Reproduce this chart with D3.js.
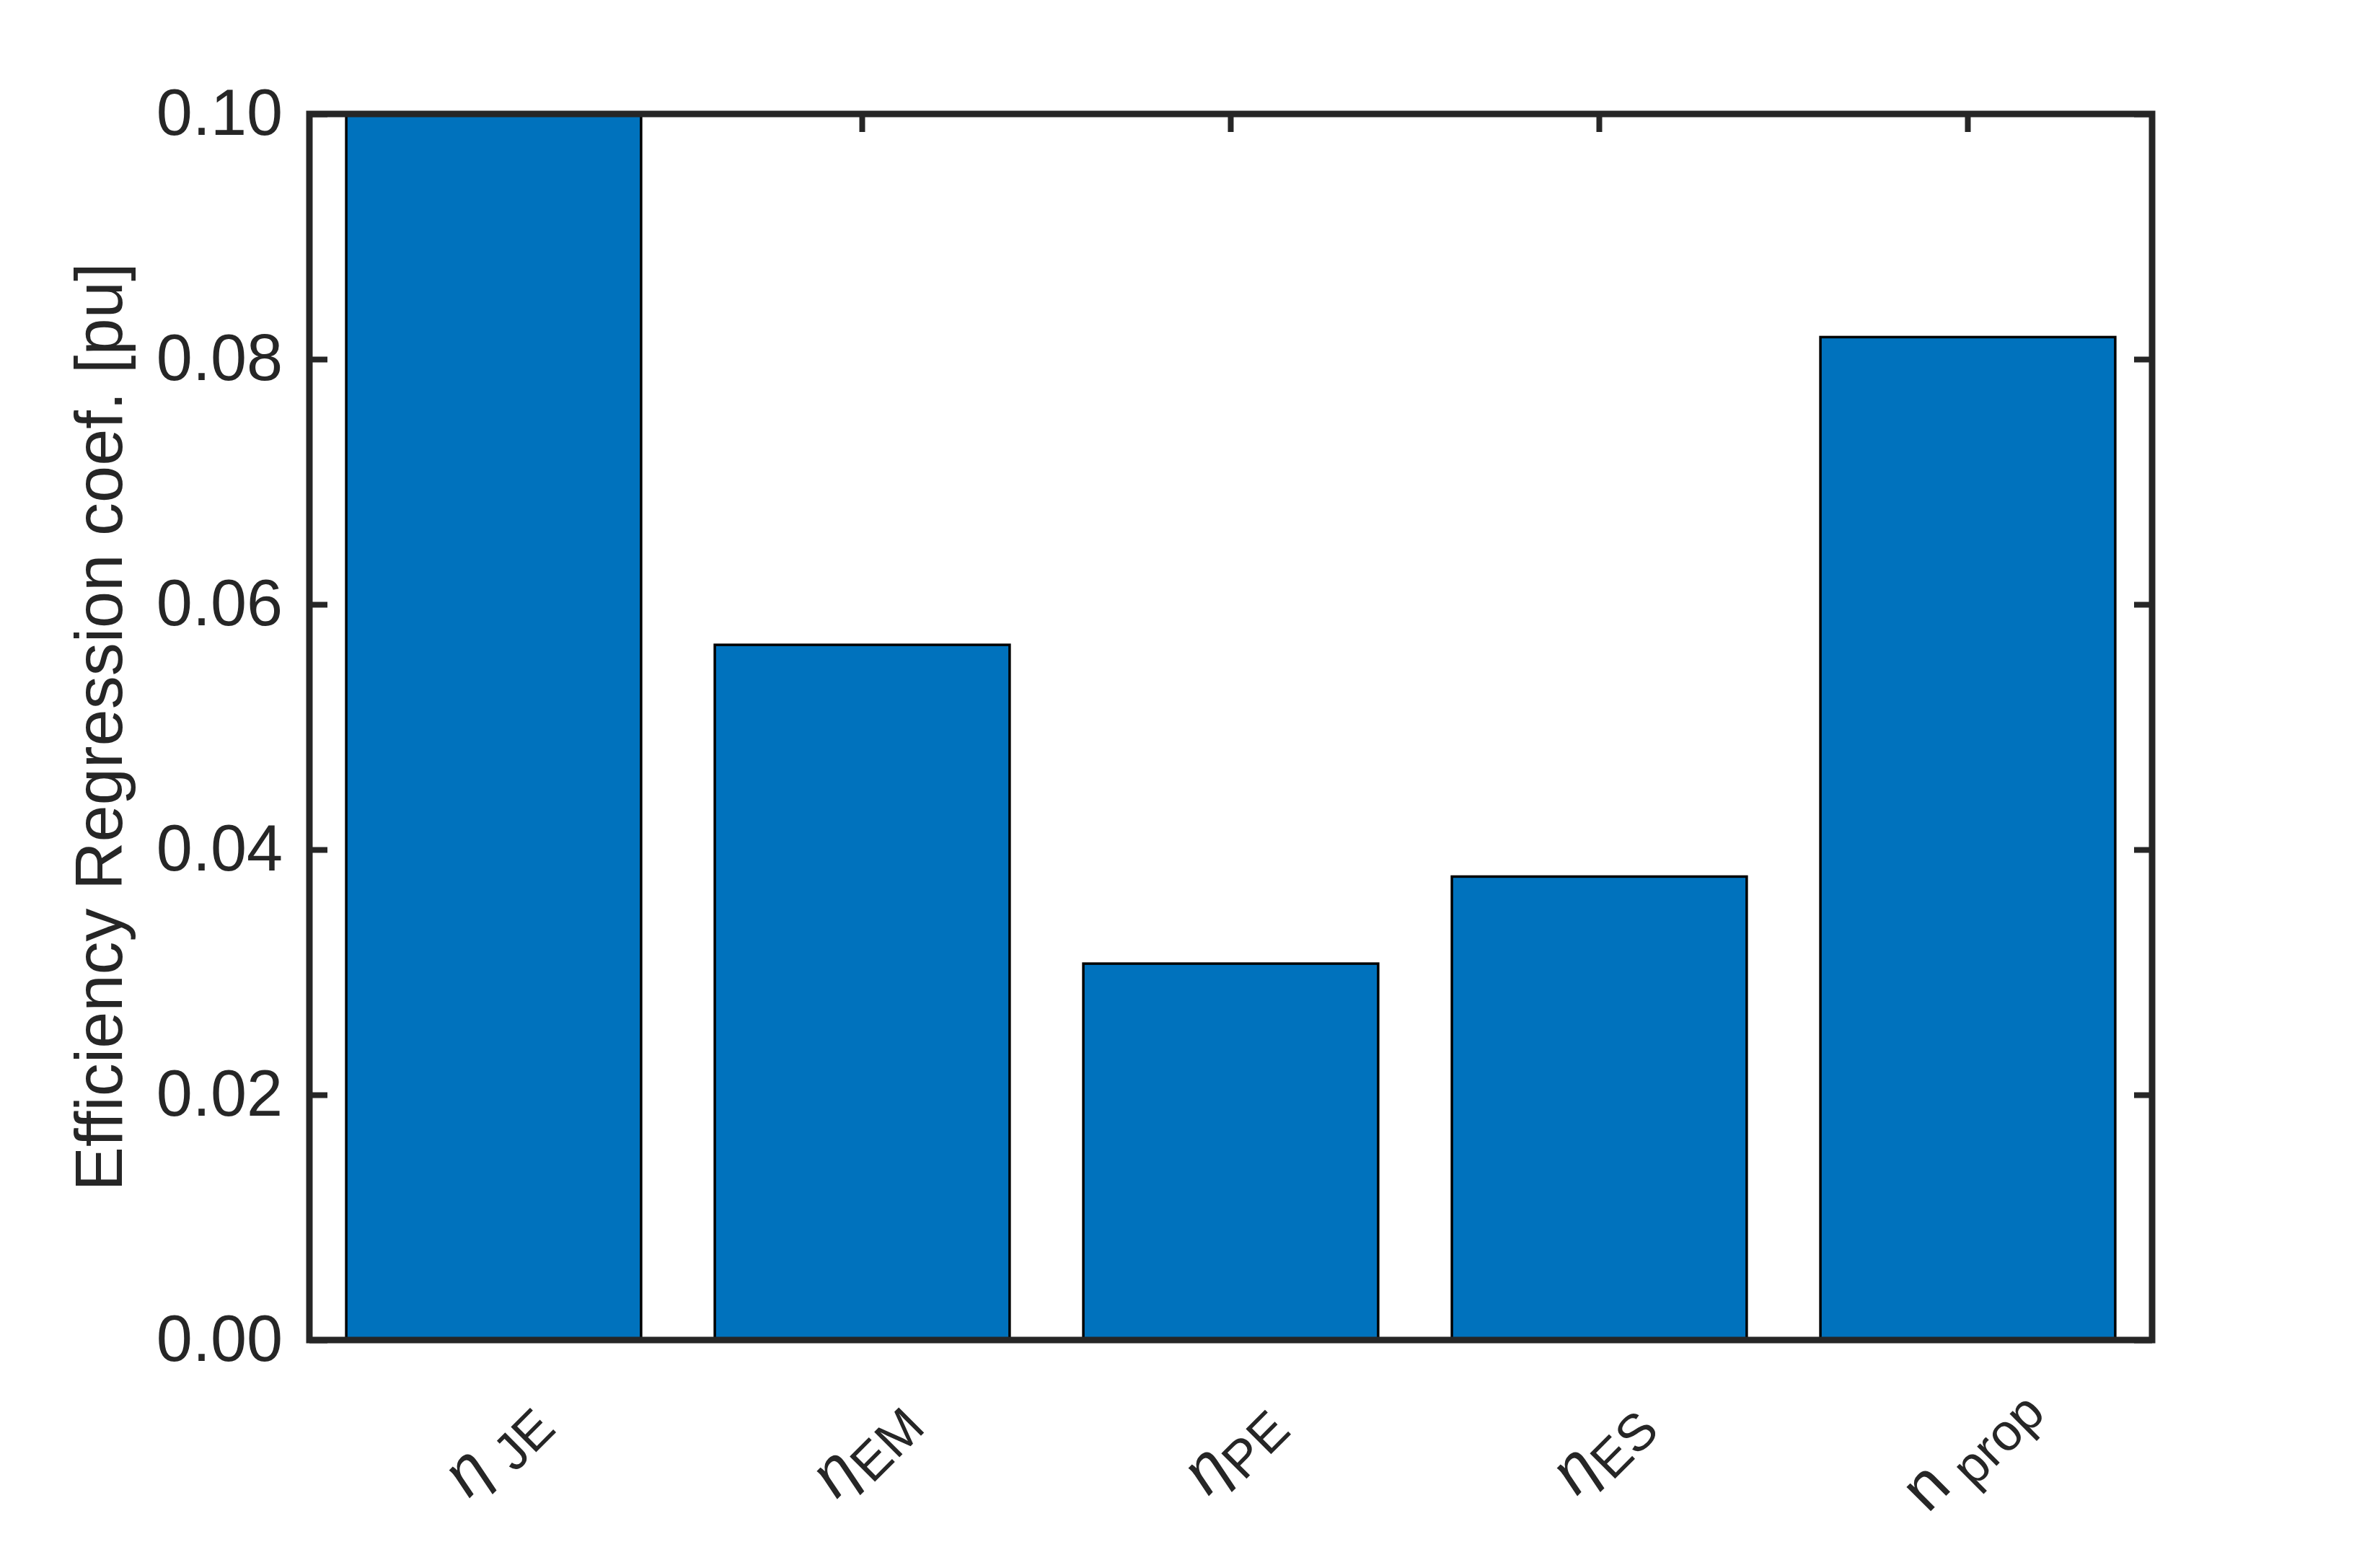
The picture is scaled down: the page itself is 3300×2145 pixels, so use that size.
<!DOCTYPE html>
<html>
<head>
<meta charset="utf-8">
<script src="https://cdn.jsdelivr.net/npm/d3@7"></script>
<style>
  body { margin: 0; background: #fff; }
  text { font-family: "Liberation Sans", Arial, sans-serif; fill: #262626; }
</style>
</head>
<body>
<svg id="chart" width="3300" height="2145"></svg>
<script>
// data
var catKeys = ["JE", "EM", "PE", "ES", "prop"];
var catBase = ["\u03b7", "\u03b7", "\u03b7", "\u03b7", "n"];
var catSub = [" JE", "EM", "PE", "ES", " prop"];
var coefValues = [0.100, 0.0567, 0.0307, 0.0378, 0.0818];
var yTicks = [0, 0.02, 0.04, 0.06, 0.08, 0.10];
var yLabel = "Efficiency Regression coef. [pu]";

var svg = d3.select("#chart");
var plotL = 429, plotR = 2984, plotT = 158, plotB = 1858;
var axisColor = "#262626";

svg.append("rect").attr("width", 3300).attr("height", 2145).attr("fill", "#fff");

var x = d3.scaleBand()
    .domain(catKeys)
    .range([plotL, plotR])
    .paddingInner(0.2)
    .paddingOuter(0.1);

var y = d3.scaleLinear()
    .domain([0, 0.10])
    .range([plotB, plotT]);

// ticks (inside, like matlab box on)
function styleAxis(g) {
    g.selectAll(".tick line").attr("stroke", axisColor).attr("stroke-width", 8);
    g.select(".domain").remove();
    g.selectAll("text").style("font-size", "90px").attr("fill", axisColor);
}

svg.append("g")
    .attr("transform", "translate(" + plotL + ",0)")
    .call(d3.axisLeft(y).tickValues(yTicks).tickFormat(d3.format(".2f")).tickSize(-25).tickPadding(37))
    .call(styleAxis);

svg.append("g")
    .attr("transform", "translate(" + plotR + ",0)")
    .call(d3.axisRight(y).tickValues(yTicks).tickFormat("").tickSize(-25))
    .call(styleAxis);

svg.append("g")
    .attr("transform", "translate(0," + plotT + ")")
    .call(d3.axisTop(x).tickFormat("").tickSize(-25))
    .call(styleAxis);

svg.append("g")
    .attr("transform", "translate(0," + plotB + ")")
    .call(d3.axisBottom(x).tickFormat("").tickSize(-25))
    .call(styleAxis);

// bars
svg.append("g").selectAll("rect")
    .data(coefValues)
    .enter()
    .append("rect")
    .attr("x", function(d, i) { return x(catKeys[i]); })
    .attr("y", function(d) { return y(d); })
    .attr("width", x.bandwidth())
    .attr("height", function(d) { return y(0) - y(d); })
    .attr("fill", "#0072BD")
    .attr("stroke", "#000")
    .attr("stroke-width", 3.5);

// axes box
svg.append("rect")
    .attr("x", plotL).attr("y", plotT)
    .attr("width", plotR - plotL).attr("height", plotB - plotT)
    .attr("fill", "none")
    .attr("stroke", axisColor)
    .attr("stroke-width", 9);

// rotated category labels
var xl = svg.append("g").selectAll("text")
    .data(catKeys)
    .enter()
    .append("text")
    .attr("text-anchor", "middle")
    .attr("transform", function(d) {
        return "translate(" + (x(d) + x.bandwidth() / 2 + 20) + ",2024) rotate(-45)";
    });

xl.append("tspan")
    .style("font-size", "90px")
    .style("font-style", function(d, i) { return catBase[i] === "n" ? "normal" : "italic"; })
    .text(function(d, i) { return catBase[i]; });

xl.append("tspan")
    .style("font-size", "72px")
    .attr("dy", 20)
    .text(function(d, i) { return catSub[i]; });

// y label
svg.append("text")
    .attr("transform", "translate(169," + ((plotT + plotB) / 2) + ") rotate(-90)")
    .attr("text-anchor", "middle")
    .style("font-size", "92px")
    .text(yLabel);
</script>
</body>
</html>
